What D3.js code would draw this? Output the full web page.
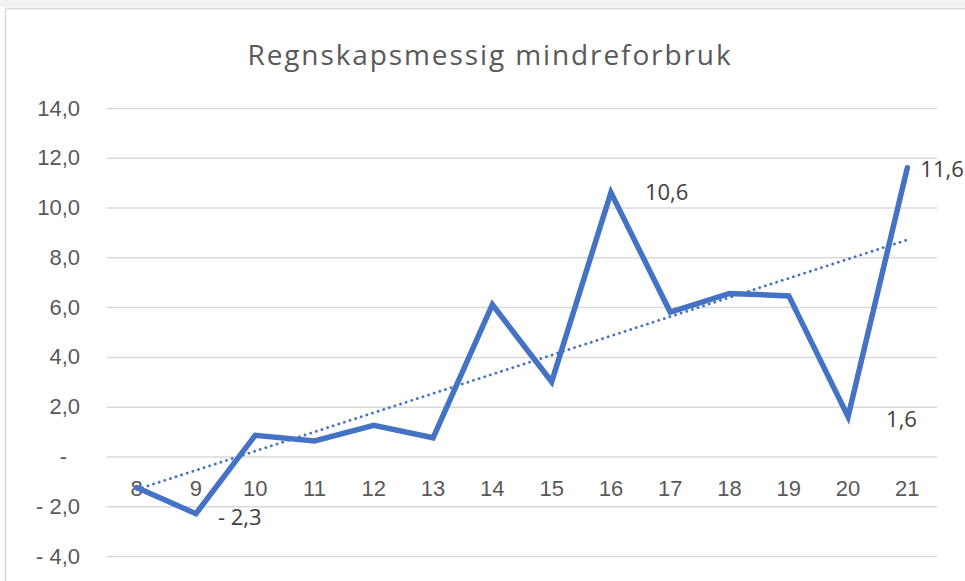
<!DOCTYPE html>
<html><head><meta charset="utf-8">
<script src="https://cdn.jsdelivr.net/npm/d3@7"></script>
<style>
html,body{margin:0;padding:0;background:#fff;}
svg{display:block;font-family:"Open Sans","Liberation Sans",sans-serif;}
</style></head>
<body><svg id="c" width="965" height="581"></svg>
<script>
const title = "Regnskapsmessig mindreforbruk";
const categories = ["8","9","10","11","12","13","14","15","16","17","18","19","20","21"];
const values = [-1.25,-2.3,0.85,0.62,1.25,0.75,6.1,3.0,10.6,5.8,6.55,6.45,1.6,11.6];
const yTicks = [-4,-2,0,2,4,6,8,10,12,14];
const labelledIndex = [1,8,12,13];

const svg = d3.select("#c");
const W = 965, H = 581;

// chart border
svg.append("rect").attr("x",0).attr("y",0).attr("width",W).attr("height",7).attr("fill","#f2f2f2");
svg.append("line").attr("x1",5.5).attr("x2",W).attr("y1",8.5).attr("y2",8.5).attr("stroke","#d9d9d9").attr("stroke-width",1.5);
svg.append("line").attr("x1",5.5).attr("x2",5.5).attr("y1",8.5).attr("y2",H).attr("stroke","#d9d9d9").attr("stroke-width",1.5);

const x = d3.scaleBand().domain(categories).range([107,937]);
const y = d3.scaleLinear().domain([-4,14]).range([556,108]);
const cx = d => x(d) + x.bandwidth()/2;

// title
svg.append("text").attr("x",490).attr("y",65).attr("text-anchor","middle")
  .attr("font-size",28).attr("letter-spacing",1.9).attr("fill","#595959").text(title);

const fmt = v => v === 0 ? "-" : (v < 0 ? "- " : "") + Math.abs(v).toFixed(1).replace(".", ",");

// gridlines
const yAxis = d3.axisLeft(y).tickValues(yTicks).tickSize(-(937-107)).tickFormat(fmt).tickPadding(27);
const gy = svg.append("g").attr("transform","translate(107,0)").call(yAxis);
gy.select(".domain").remove();
gy.selectAll(".tick line").attr("stroke","#d9d9d9").attr("stroke-width",1.5);
gy.selectAll(".tick text").attr("font-size",22).attr("fill","#595959")
  .attr("dx", d => d === 0 ? -13 : 0);

// category labels
const xAxis = d3.axisBottom(x).tickSize(0).tickPadding(0);
const gx = svg.append("g").attr("transform","translate(0,"+y(0)+")").call(xAxis);
gx.select(".domain").remove();
gx.selectAll(".tick text").attr("font-size",22).attr("fill","#595959").attr("y",32).attr("dy","0.35em");

// trendline (linear regression)
const n = values.length;
const xs = d3.range(n);
const mx = d3.mean(xs), my = d3.mean(values);
const slope = d3.sum(xs, i => (i-mx)*(values[i]-my)) / d3.sum(xs, i => (i-mx)*(i-mx));
const icpt = my - slope*mx;
svg.append("line")
  .attr("x1",cx(categories[0])).attr("y1",y(icpt))
  .attr("x2",cx(categories[n-1])).attr("y2",y(icpt+slope*(n-1)))
  .attr("stroke","#4472c4").attr("stroke-width",2.8).attr("stroke-linecap","round")
  .attr("stroke-dasharray","0.1 5.8");

// main line
const line = d3.line().x((d,i)=>cx(categories[i])).y(d=>y(d));
svg.append("path").datum(values).attr("d",line).attr("fill","none")
  .attr("stroke","#4472c4").attr("stroke-width",5.5).attr("stroke-linejoin","miter").attr("stroke-linecap","round");

// data labels
const offsets = {1:[22,11],8:[34,7],12:[38,10],13:[13,9]};
labelledIndex.forEach(i=>{
  const o = offsets[i];
  svg.append("text").attr("x",cx(categories[i])+o[0]).attr("y",y(values[i])+o[1])
    .attr("font-size",22).attr("fill","#404040").text(fmt(values[i]));
});
</script></body></html>
